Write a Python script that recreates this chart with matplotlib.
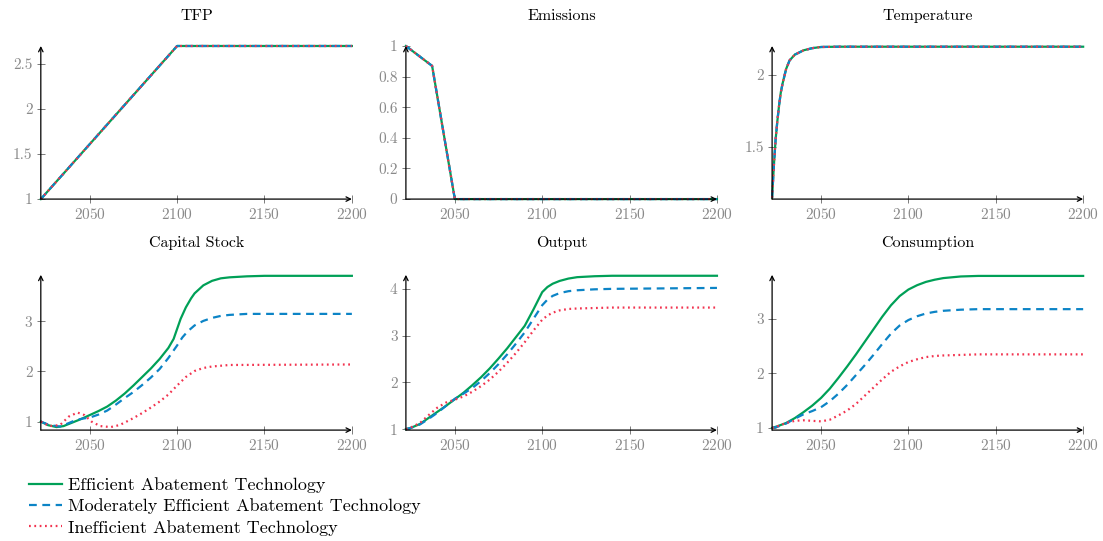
import numpy as np
import matplotlib
matplotlib.use('Agg')
import matplotlib.pyplot as plt
from matplotlib.ticker import FuncFormatter

plt.rcParams['font.family'] = ['cmr10', 'DejaVu Serif']
plt.rcParams['axes.formatter.use_mathtext'] = True

# colours / labels
GREEN = '#00A057'
BLUE = '#0C84C6'
RED = '#F2334F'
labels = ['Efficient Abatement Technology',
          'Moderately Efficient Abatement Technology',
          'Inefficient Abatement Technology']

# TFP (same for all scenarios)
tfp_years = [2022, 2100, 2200]
tfp_vals = [1.0, 2.7, 2.7]

# Emissions (same for all scenarios)
em_years = [2022, 2037, 2050, 2200]
em_vals = [1.0, 0.87, 0.0, 0.0]

# Temperature (same for all scenarios)
temp_years = [2022, 2023, 2024, 2025, 2026, 2027, 2028, 2030, 2032, 2035, 2040, 2045, 2050, 2060, 2200]
temp_vals = [1.15, 1.37, 1.55, 1.68, 1.79, 1.88, 1.94, 2.04, 2.10, 2.14, 2.17, 2.185, 2.193, 2.195, 2.195]

# Capital stock
cap_years_eff = [2022, 2026, 2031, 2035, 2040, 2045, 2050, 2055, 2060, 2065, 2070, 2075, 2080, 2085, 2090,
                 2095, 2098, 2100, 2102, 2105, 2108, 2110, 2115, 2120, 2125, 2130, 2140, 2150, 2200]
cap_eff = [1.0, 0.93, 0.89, 0.91, 0.98, 1.05, 1.13, 1.21, 1.30, 1.42, 1.56, 1.72, 1.89, 2.06, 2.25,
           2.47, 2.65, 2.85, 3.05, 3.28, 3.46, 3.56, 3.72, 3.81, 3.86, 3.88, 3.90, 3.91, 3.91]
cap_years_mod = [2022, 2027, 2033, 2038, 2042, 2046, 2050, 2055, 2060, 2065, 2070, 2075, 2080, 2085, 2090,
                 2095, 2100, 2103, 2106, 2110, 2115, 2120, 2125, 2130, 2140, 2200]
cap_mod = [1.0, 0.93, 0.90, 0.97, 1.03, 1.06, 1.08, 1.14, 1.22, 1.34, 1.47, 1.59, 1.73, 1.88, 2.05,
           2.27, 2.52, 2.68, 2.80, 2.92, 3.01, 3.07, 3.11, 3.13, 3.15, 3.15]
cap_years_ineff = [2022, 2027, 2033, 2038, 2043, 2047, 2051, 2056, 2062, 2067, 2070, 2075, 2080, 2085, 2090,
                   2095, 2100, 2105, 2110, 2115, 2120, 2130, 2200]
cap_ineff = [1.0, 0.91, 0.93, 1.10, 1.18, 1.13, 1.00, 0.91, 0.89, 0.93, 0.98, 1.07, 1.17, 1.28, 1.40,
             1.54, 1.72, 1.89, 2.01, 2.07, 2.10, 2.13, 2.14]

# Output
out_years = [2022, 2025, 2030, 2035, 2040, 2045, 2050, 2055, 2060, 2065, 2070, 2075, 2080, 2085, 2090,
             2095, 2100, 2103, 2106, 2110, 2115, 2120, 2130, 2140, 2200]
out_eff = [1.0, 1.03, 1.11, 1.24, 1.37, 1.50, 1.64, 1.78, 1.94, 2.11, 2.30, 2.51, 2.73, 2.97, 3.21,
           3.56, 3.93, 4.04, 4.11, 4.17, 4.22, 4.25, 4.27, 4.28, 4.28]
out_mod = [1.0, 1.03, 1.10, 1.22, 1.35, 1.50, 1.65, 1.76, 1.88, 2.03, 2.20, 2.39, 2.60, 2.83, 3.07,
           3.36, 3.65, 3.77, 3.85, 3.91, 3.95, 3.97, 3.99, 4.00, 4.02]
out_ineff = [1.0, 1.04, 1.13, 1.30, 1.46, 1.57, 1.63, 1.70, 1.80, 1.92, 2.06, 2.23, 2.42, 2.63, 2.86,
             3.11, 3.34, 3.43, 3.49, 3.54, 3.57, 3.58, 3.59, 3.60, 3.60]

# Consumption
cons_years = [2022, 2025, 2030, 2035, 2040, 2045, 2050, 2055, 2060, 2065, 2070, 2075, 2080, 2085, 2090,
              2095, 2100, 2105, 2110, 2115, 2120, 2130, 2140, 2200]
cons_eff = [1.0, 1.03, 1.09, 1.18, 1.29, 1.41, 1.55, 1.72, 1.92, 2.13, 2.35, 2.58, 2.81, 3.04, 3.25,
            3.42, 3.54, 3.62, 3.68, 3.72, 3.75, 3.78, 3.79, 3.79]
cons_mod = [1.0, 1.02, 1.08, 1.17, 1.25, 1.31, 1.38, 1.49, 1.63, 1.79, 1.97, 2.15, 2.34, 2.54, 2.73,
            2.88, 2.98, 3.05, 3.10, 3.13, 3.15, 3.17, 3.18, 3.18]
cons_ineff = [1.0, 1.03, 1.09, 1.13, 1.14, 1.13, 1.12, 1.15, 1.23, 1.32, 1.44, 1.59, 1.74, 1.89, 2.03,
              2.13, 2.21, 2.26, 2.30, 2.32, 2.33, 2.34, 2.35, 2.35]

fig = plt.figure(figsize=(11.03, 5.41), dpi=100)

col_left = [0.037, 0.368, 0.700]
col_w = 0.282
row_bottom = [0.632, 0.205]
row_h = [0.283, 0.287]


def style_axis(ax, title, ylim, yticks, pad=18):
    ax.set_xlim(2022, 2200)
    ax.set_ylim(*ylim)
    ax.set_xticks([2050, 2100, 2150, 2200])
    ax.set_yticks(yticks)
    ax.yaxis.set_major_formatter(FuncFormatter(lambda v, p: '%g' % v))
    for s in ['top', 'right', 'left', 'bottom']:
        ax.spines[s].set_visible(False)
    ax.tick_params(direction='inout', length=6, width=0.6, color='#666666',
                   labelcolor='#8a8a8a', labelsize=11, pad=3)
    ax.annotate('', xy=(1.0, 0), xytext=(0, 0), xycoords='axes fraction',
                arrowprops=dict(arrowstyle='->', lw=0.9, color='black',
                                shrinkA=0, shrinkB=0, mutation_scale=8))
    ax.annotate('', xy=(0, 1.0), xytext=(0, 0), xycoords='axes fraction',
                arrowprops=dict(arrowstyle='->', lw=0.9, color='black',
                                shrinkA=0, shrinkB=0, mutation_scale=8))
    ax.set_title(title, fontsize=11.5, pad=pad)


def draw_three(ax, xs, ys_list):
    ax.plot(xs[0], ys_list[0], color=GREEN, lw=1.6, label=labels[0], clip_on=False)
    ax.plot(xs[1], ys_list[1], color=BLUE, lw=1.6, ls=(0, (3.5, 2.5)), label=labels[1], clip_on=False)
    ax.plot(xs[2], ys_list[2], color=RED, lw=1.6, ls=(0, (0.8, 1.6)), label=labels[2], clip_on=False)


axes = []
for r in range(2):
    for c in range(3):
        axes.append(fig.add_axes([col_left[c], row_bottom[r], col_w, row_h[r]]))

draw_three(axes[0], [tfp_years] * 3, [tfp_vals] * 3)
style_axis(axes[0], 'TFP', (1, 2.7), [1, 1.5, 2, 2.5], pad=19)

draw_three(axes[1], [em_years] * 3, [em_vals] * 3)
style_axis(axes[1], 'Emissions', (0, 1), [0, 0.2, 0.4, 0.6, 0.8, 1], pad=19)

draw_three(axes[2], [temp_years] * 3, [temp_vals] * 3)
style_axis(axes[2], 'Temperature', (1.14, 2.2), [1.5, 2], pad=19)

draw_three(axes[3], [cap_years_eff, cap_years_mod, cap_years_ineff], [cap_eff, cap_mod, cap_ineff])
style_axis(axes[3], 'Capital Stock', (0.83, 3.93), [1, 2, 3], pad=20)

draw_three(axes[4], [out_years] * 3, [out_eff, out_mod, out_ineff])
style_axis(axes[4], 'Output', (0.98, 4.3), [1, 2, 3, 4], pad=20)

draw_three(axes[5], [cons_years] * 3, [cons_eff, cons_mod, cons_ineff])
style_axis(axes[5], 'Consumption', (0.96, 3.81), [1, 2, 3], pad=20)

handles, labs = axes[0].get_legend_handles_labels()
fig.legend(handles, labs, loc='upper left', bbox_to_anchor=(0.02, 0.131),
           frameon=False, fontsize=13, handlelength=1.8, handletextpad=0.35,
           labelspacing=0.3, borderaxespad=0)

fig.savefig('out.png', dpi=100)
